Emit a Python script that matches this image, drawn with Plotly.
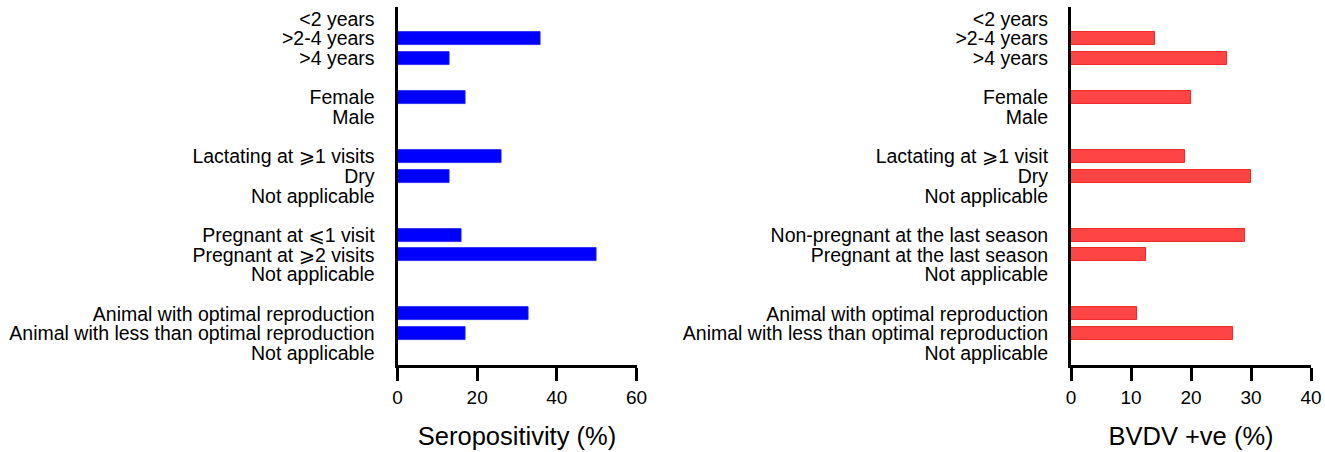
import plotly.graph_objects as go

# ---- data ----
left_groups = [
    ["<2 years", ">2-4 years", ">4 years"],
    ["Female", "Male"],
    ["Lactating at \u2a7e1 visits", "Dry", "Not applicable"],
    ["Pregnant at \u2a7d1 visit", "Pregnant at \u2a7e2 visits", "Not applicable"],
    ["Animal with optimal reproduction", "Animal with less than optimal reproduction", "Not applicable"],
]
left_values = [
    [None, 36, 13],
    [17, None],
    [26, 13, None],
    [16, 50, None],
    [33, 17, None],
]
right_groups = [
    ["<2 years", ">2-4 years", ">4 years"],
    ["Female", "Male"],
    ["Lactating at \u2a7e1 visit", "Dry", "Not applicable"],
    ["Non-pregnant at the last season", "Pregnant at the last season", "Not applicable"],
    ["Animal with optimal reproduction", "Animal with less than optimal reproduction", "Not applicable"],
]
right_values = [
    [None, 14, 26],
    [20, None],
    [19, 30, None],
    [29, 12.5, None],
    [11, 27, None],
]
left_ticks = [0, 20, 40, 60]
right_ticks = [0, 10, 20, 30, 40]
left_title = "Seropositivity (%)"
right_title = "BVDV +ve (%)"


def flatten(groups, values):
    pos, labels, vals = [], [], []
    slot = 0
    for g, v in zip(groups, values):
        for lab, val in zip(g, v):
            pos.append(slot)
            labels.append(lab)
            vals.append(val)
            slot += 1
        slot += 1  # gap between groups
    return pos, labels, vals


lp, ll, lv = flatten(left_groups, left_values)
rp, rl, rv = flatten(right_groups, right_values)

FONT = "Liberation Sans, Arial, DejaVu Sans, sans-serif"

fig = go.Figure()
fig.add_trace(go.Bar(
    x=lv, y=lp, orientation="h", width=0.66,
    marker=dict(color="#0000FF", line=dict(color="#2020F0", width=0.8)),
    xaxis="x", yaxis="y", showlegend=False, hoverinfo="skip",
))
fig.add_trace(go.Bar(
    x=rv, y=rp, orientation="h", width=0.66,
    marker=dict(color="#FF4444", line=dict(color="#F02A2A", width=1)),
    xaxis="x2", yaxis="y2", showlegend=False, hoverinfo="skip",
))

W, H = 1325, 452
yrange = [17.61, -0.61]

common_x = dict(
    showline=True, linewidth=3, linecolor="black",
    ticks="outside", ticklen=13, tickwidth=3, tickcolor="black",
    showgrid=False, zeroline=False, automargin=False,
    tickfont=dict(family=FONT, size=19, color="black"),
)
common_y = dict(
    range=yrange, showline=True, linewidth=3, linecolor="black",
    ticks="", showgrid=False, zeroline=False, automargin=False,
    tickfont=dict(family=FONT, size=19.5, color="black"),
    ticklabelstandoff=16,
)

fig.update_layout(
    template="simple_white",
    width=W, height=H, autosize=False,
    margin=dict(l=0, r=0, t=7, b=87),
    paper_bgcolor="white", plot_bgcolor="white",
    bargap=0,
    xaxis=dict(domain=[397.5 / W, 636.5 / W], range=[0, 60], tickvals=left_ticks,
               title=dict(text=left_title, font=dict(family=FONT, size=25.5, color="black"), standoff=21),
               anchor="y", **common_x),
    yaxis=dict(domain=[0, 1], anchor="x", tickvals=lp, ticktext=ll, **common_y),
    xaxis2=dict(domain=[1071 / W, 1311 / W], range=[0, 40], tickvals=right_ticks,
                title=dict(text=right_title, font=dict(family=FONT, size=25.5, color="black"), standoff=21),
                anchor="y2", **common_x),
    yaxis2=dict(domain=[0, 1], anchor="x2", tickvals=rp, ticktext=rl, **common_y),
)

fig.write_html(
    "out.html",
    config={"displayModeBar": False, "responsive": False},
    post_script="document.body.style.margin='0';document.body.style.padding='0';document.body.style.overflow='hidden';",
)
